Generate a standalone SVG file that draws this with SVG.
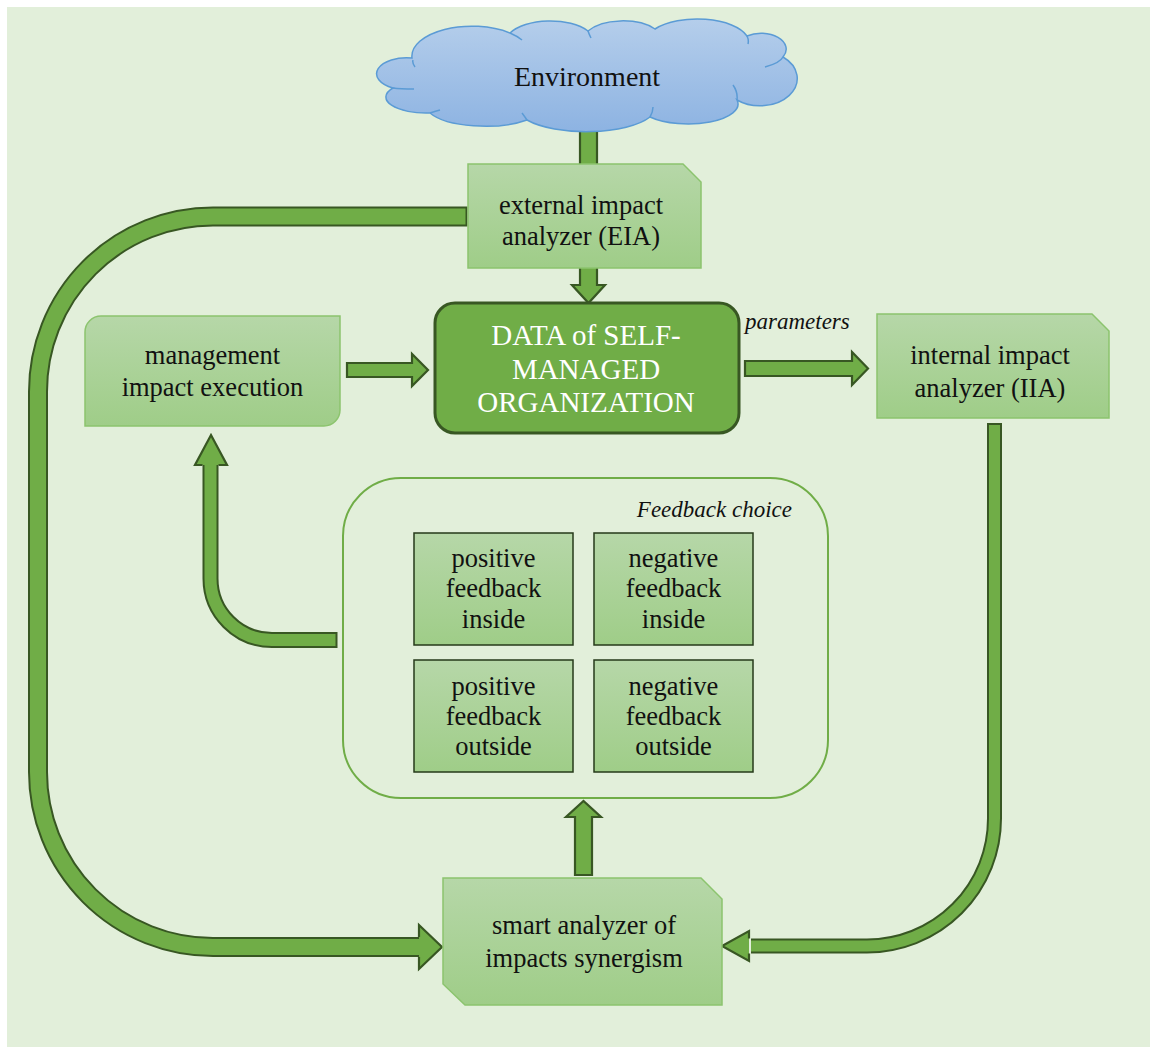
<svg xmlns="http://www.w3.org/2000/svg" width="1153" height="1051" viewBox="0 0 1153 1051">
  <defs>
    <linearGradient id="gBox" x1="0" y1="0" x2="0" y2="1">
      <stop offset="0" stop-color="#B6D7A8"/>
      <stop offset="1" stop-color="#9FCD88"/>
    </linearGradient>
    <linearGradient id="gCloud" x1="0" y1="0" x2="0" y2="1">
      <stop offset="0" stop-color="#B5CEEB"/>
      <stop offset="1" stop-color="#8DB3E2"/>
    </linearGradient>
    <style>
      .txt { font-family: "Liberation Serif", "Times New Roman", serif; font-size: 26.5px; fill: #111; text-anchor: middle; }
      .lbl { font-family: "Liberation Serif", "Times New Roman", serif; font-size: 23px; font-style: italic; fill: #111; }
      .box { fill: url(#gBox); stroke: #8CC46E; stroke-width: 1.5; }
      .fbox { fill: url(#gBox); stroke: #263A1A; stroke-width: 1.5; }
      .arr { fill: #70AD47; stroke: #385723; stroke-width: 2.2; stroke-linejoin: miter; }
      .under { fill: none; stroke: #385723; }
      .over { fill: none; stroke: #70AD47; }
    </style>
  </defs>

  <rect x="0" y="0" width="1153" height="1051" fill="#FFFFFF"/>
  <rect x="7" y="7" width="1143" height="1040" fill="#E2EFDA"/>

  <g id="connectors">
    <!-- Environment -> EIA bar -->
    <rect class="arr" x="580" y="126" width="17" height="42"/>
    <!-- EIA -> DATA -->
    <path class="arr" d="M580,266 V285 H572 L588.5,303 L605,285 H597 V266 Z"/>
    <!-- management -> DATA -->
    <path class="arr" d="M347,363 H412 V354 L428,370 L412,386 V377 H347 Z"/>
    <!-- DATA -> IIA -->
    <path class="arr" d="M745,361 H852 V352 L868,368.5 L852,385 V376 H745 Z"/>
    <!-- smart -> feedback choice -->
    <path class="arr" d="M575,875 V817 H566 L583.5,801 L601,817 H592 V875 Z"/>

    <!-- EIA -> smart analyzer (big loop on left) -->
    <path class="under" stroke-width="20" d="M467.5,216.5 H213 A175,175 0 0 0 38,391.5 V772 A175,175 0 0 0 213,947 H421"/>
    <path class="over" stroke-width="16" d="M465.5,216.5 H213 A175,175 0 0 0 38,391.5 V772 A175,175 0 0 0 213,947 H421"/>
    <path class="arr" d="M419,937 V925 L442,947 L419,969 V957"/>

    <!-- IIA -> smart analyzer -->
    <path class="under" stroke-width="15" d="M994.5,423 V818.5 A127.5,127.5 0 0 1 867,946 H751"/>
    <path class="over" stroke-width="11" d="M994.5,425 V818.5 A127.5,127.5 0 0 1 867,946 H751"/>
    <path class="arr" d="M749,938.5 V931 L722,946 L749,961 V953.5"/>

    <!-- feedback choice -> management -->
    <path class="under" stroke-width="16" d="M337.5,640 H272 A61.5,61.5 0 0 1 210.5,578.5 V463"/>
    <path class="over" stroke-width="12" d="M335.5,640 H272 A61.5,61.5 0 0 1 210.5,578.5 V463"/>
    <path class="arr" d="M202.5,465 H195 L211,435 L227,465 H218.5"/>
  </g>

  <g id="environment">
    <path fill="url(#gCloud)" stroke="#5B9BD5" stroke-width="1.5"
      d="M412,58 A60,30 0 0 1 510,33 A45,22 0 0 1 588,31 A40,20 0 0 1 655,29 A52,24 0 0 1 747,36 A25,16 0 0 1 783,57 A30,22 0 0 1 737,100 A50,20 0 0 1 650,117 A70,25 0 0 1 527,120 A60,22 0 0 1 430,113 A40,16 0 0 1 393,88 A30,16 0 0 1 412,58 Z"/>
    <path fill="none" stroke="#5B9BD5" stroke-width="1.5" d="M413,60 Q412,63 415,67 M510,33 Q517,36 522,40 M588,31 Q589,34 591,38 M747,36 Q749,40 748,44 M783,57 Q780,63 765,67 M737,100 Q738,92 733,85 M650,117 Q653,112 653,107 M527,120 Q525,117 522,113 M430,113 Q436,111 440,110 M393,88 Q400,89 414,89"/>
    <text class="txt" x="587" y="86" style="font-size:28px">Environment</text>
  </g>

  <g id="eia">
    <path class="box" d="M468,164 H683 L701,182 V268 H468 Z"/>
    <text class="txt" x="581" y="214">external impact</text>
    <text class="txt" x="581" y="245">analyzer (EIA)</text>
  </g>

  <g id="data">
    <rect x="435" y="303" width="304" height="130" rx="20" fill="#70AD47" stroke="#385723" stroke-width="3"/>
    <text class="txt" x="586" y="345" style="fill:#FFFFFF;font-size:29px">DATA of SELF-</text>
    <text class="txt" x="586" y="379" style="fill:#FFFFFF;font-size:29px">MANAGED</text>
    <text class="txt" x="586" y="412" style="fill:#FFFFFF;font-size:29px">ORGANIZATION</text>
  </g>

  <g id="parameters-label">
    <text class="lbl" x="745" y="329">parameters</text>
  </g>

  <g id="management">
    <path class="box" d="M101,316 H340 V410 A16,16 0 0 1 324,426 H85 V332 A16,16 0 0 1 101,316 Z"/>
    <text class="txt" x="212.5" y="364">management</text>
    <text class="txt" x="212.5" y="396">impact execution</text>
  </g>

  <g id="iia">
    <path class="box" d="M877,314 H1092 L1109,331 V418 H877 Z"/>
    <text class="txt" x="990" y="364">internal impact</text>
    <text class="txt" x="990" y="397">analyzer (IIA)</text>
  </g>

  <g id="feedback-choice">
    <rect x="343" y="478" width="485" height="320" rx="58" fill="none" stroke="#70AD47" stroke-width="2"/>
    <text class="lbl" x="792" y="517" text-anchor="end">Feedback choice</text>
  </g>

  <g id="pos-inside">
    <rect class="fbox" x="414" y="533" width="159" height="112"/>
    <text class="txt" x="493.5" y="567">positive</text>
    <text class="txt" x="493.5" y="597">feedback</text>
    <text class="txt" x="493.5" y="628">inside</text>
  </g>
  <g id="neg-inside">
    <rect class="fbox" x="594" y="533" width="159" height="112"/>
    <text class="txt" x="673.5" y="567">negative</text>
    <text class="txt" x="673.5" y="597">feedback</text>
    <text class="txt" x="673.5" y="628">inside</text>
  </g>
  <g id="pos-outside">
    <rect class="fbox" x="414" y="660" width="159" height="112"/>
    <text class="txt" x="493.5" y="695">positive</text>
    <text class="txt" x="493.5" y="725">feedback</text>
    <text class="txt" x="493.5" y="755">outside</text>
  </g>
  <g id="neg-outside">
    <rect class="fbox" x="594" y="660" width="159" height="112"/>
    <text class="txt" x="673.5" y="695">negative</text>
    <text class="txt" x="673.5" y="725">feedback</text>
    <text class="txt" x="673.5" y="755">outside</text>
  </g>

  <g id="smart">
    <path class="box" d="M443,878 H701 L722,899 V1005 H465 L443,984 Z"/>
    <text class="txt" x="584" y="934">smart analyzer of</text>
    <text class="txt" x="584" y="967">impacts synergism</text>
  </g>
</svg>
